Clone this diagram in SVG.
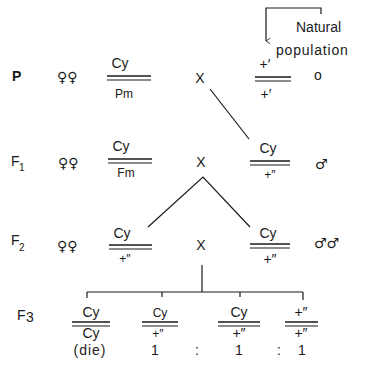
<svg xmlns="http://www.w3.org/2000/svg" width="370" height="389" viewBox="0 0 370 389">
<defs>
<style>
text{font-family:"Liberation Sans",Arial,sans-serif;fill:#1a1a1a;font-size:14px}
.sym{font-family:"DejaVu Sans",sans-serif;font-size:14px}
.m{text-anchor:middle}
.sm{font-size:12px}
.sub{font-size:10px}
.l1{stroke:#1a1a1a;stroke-width:1.6;fill:none}
.l2{stroke:#1a1a1a;stroke-width:1.2;fill:none}
.c{stroke:#1a1a1a;stroke-width:1.2;fill:none}
</style>
<marker id="ah" viewBox="0 0 10 10" refX="5" refY="9" markerWidth="7" markerHeight="7" orient="auto-start-reverse" markerUnits="userSpaceOnUse">
<path d="M1 3 L5 9 L9 3" fill="none" stroke="#1a1a1a" stroke-width="1.2"/>
</marker>
</defs>
<rect width="370" height="389" fill="#fff"/>

<g id="connectors">
<path class="c" d="M321 14 V8 H266 V41" marker-end="url(#ah)"/>
<line class="c" x1="210" y1="89" x2="249" y2="139"/>
<polyline class="c" points="148,227 203,177 250,227"/>
<line class="c" x1="202" y1="265" x2="202" y2="292"/>
<line class="c" x1="87" y1="292" x2="303" y2="292"/>
<line class="c" x1="87" y1="292" x2="87" y2="298"/>
<line class="c" x1="162" y1="292" x2="162" y2="297"/>
<line class="c" x1="240" y1="292" x2="240" y2="297"/>
<line class="c" x1="303" y1="292" x2="303" y2="300"/>
</g>

<g id="label-P"><text x="12" y="81" font-weight="bold" font-size="13">P</text></g>
<g id="sex-P"><text class="sym" x="57" y="82">♀♀</text></g>
<g id="geno-P-female">
<text class="m" x="120" y="68">Cy</text>
<line class="l1" x1="107" y1="76" x2="151" y2="76"/>
<line class="l2" x1="107" y1="80" x2="151" y2="80"/>
<text class="m sm" x="124" y="98">Pm</text>
</g>
<g id="cross-P"><text class="m" x="200" y="83" font-size="13">X</text></g>
<g id="geno-P-male">
<text class="m" x="265" y="69">+′</text>
<line class="l1" x1="255" y1="77" x2="291" y2="77"/>
<line class="l2" x1="255" y1="81" x2="291" y2="81"/>
<text class="m" x="266" y="99">+′</text>
</g>
<g id="natural-population">
<text x="296" y="32" font-size="13">Natural</text>
<text x="276" y="55" font-size="13" letter-spacing="0.8">population</text>
<text x="314" y="80" font-size="12">o</text>
</g>

<g id="label-F1"><text x="11" y="166" font-size="13">F</text><text class="sub" x="19" y="171">1</text></g>
<g id="sex-F1"><text class="sym" x="58" y="168">♀♀</text></g>
<g id="geno-F1-female">
<text class="m" x="121" y="151">Cy</text>
<line class="l1" x1="108" y1="159" x2="152" y2="159"/>
<line class="l2" x1="108" y1="163" x2="152" y2="163"/>
<text class="m sm" x="126" y="177">Fm</text>
</g>
<g id="cross-F1"><text class="m" x="201" y="167" font-size="13">X</text></g>
<g id="geno-F1-male">
<text class="m" x="268" y="153">Cy</text>
<line class="l1" x1="250" y1="161" x2="290" y2="161"/>
<line class="l2" x1="250" y1="165" x2="290" y2="165"/>
<text class="m sm" x="270" y="179">+″</text>
</g>
<g id="sex-F1-male"><text class="sym" x="315" y="169" font-size="15">♂</text></g>

<g id="label-F2"><text x="11" y="245" font-size="13">F</text><text class="sub" x="19" y="251">2</text></g>
<g id="sex-F2"><text class="sym" x="57" y="251">♀♀</text></g>
<g id="geno-F2-female">
<text class="m" x="122" y="238">Cy</text>
<line class="l1" x1="109" y1="245" x2="152" y2="245"/>
<line class="l2" x1="109" y1="249" x2="152" y2="249"/>
<text class="m sm" x="125" y="263">+″</text>
</g>
<g id="cross-F2"><text class="m" x="201" y="250" font-size="13">X</text></g>
<g id="geno-F2-male">
<text class="m" x="268" y="238">Cy</text>
<line class="l1" x1="250" y1="244" x2="290" y2="244"/>
<line class="l2" x1="250" y1="248" x2="290" y2="248"/>
<text class="m" x="270" y="264">+″</text>
</g>
<g id="sex-F2-male"><text class="sym" x="314" y="248" font-size="15">♂♂</text></g>

<g id="label-F3"><text x="17" y="320" font-size="13">F</text><text x="26" y="322" font-size="13">3</text></g>
<g id="geno-F3-1">
<text class="m" x="91" y="317">Cy</text>
<line class="l1" x1="72" y1="322" x2="110" y2="322"/>
<line class="l2" x1="72" y1="326" x2="110" y2="326"/>
<text class="m" x="91" y="338">Cy</text>
</g>
<g id="geno-F3-2">
<text class="m sm" x="160" y="317">Cy</text>
<line class="l1" x1="142" y1="322" x2="178" y2="322"/>
<line class="l2" x1="142" y1="326" x2="178" y2="326"/>
<text class="m sm" x="158" y="338">+″</text>
</g>
<g id="geno-F3-3">
<text class="m" x="239" y="317">Cy</text>
<line class="l1" x1="218" y1="322" x2="260" y2="322"/>
<line class="l2" x1="218" y1="326" x2="260" y2="326"/>
<text class="m" x="239" y="338">+″</text>
</g>
<g id="geno-F3-4">
<text class="m" x="301" y="317">+″</text>
<line class="l1" x1="285" y1="322" x2="318" y2="322"/>
<line class="l2" x1="285" y1="326" x2="318" y2="326"/>
<text class="m" x="301" y="338">+″</text>
</g>
<g id="ratio">
<text class="m" x="90" y="355" font-size="13" letter-spacing="1">(die)</text>
<text class="m" x="155" y="355" font-size="13">1</text>
<text class="m" x="197" y="355" font-size="13">:</text>
<text class="m" x="239" y="355" font-size="13">1</text>
<text class="m" x="279" y="355" font-size="13">:</text>
<text class="m" x="302" y="355" font-size="13">1</text>
</g>
</svg>
